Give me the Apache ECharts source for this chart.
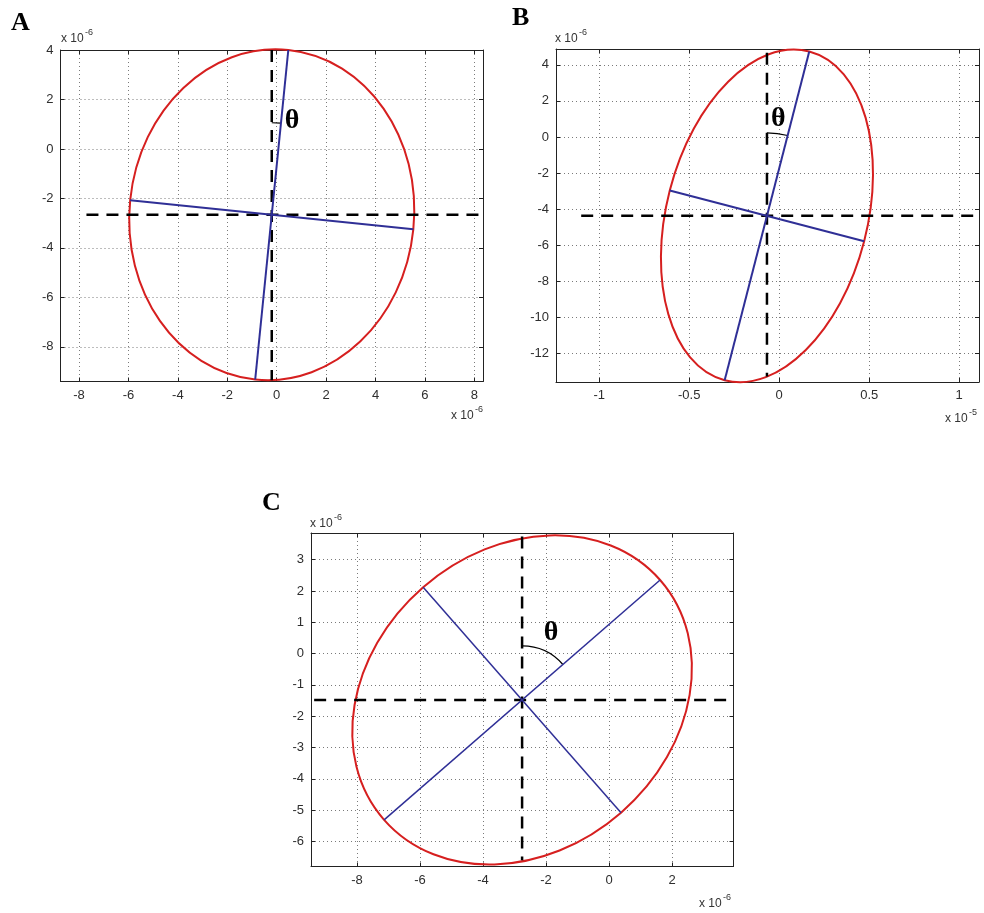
<!DOCTYPE html>
<html>
<head>
<meta charset="utf-8">
<title>Ellipse fits</title>
<script src="https://cdn.jsdelivr.net/npm/echarts@6/dist/echarts.min.js"></script>
<style>
  html, body { margin: 0; padding: 0; background: #fff; }
  #chart { width: 984px; height: 913px; }
</style>
</head>
<body>
<div id="chart"></div>
<script>
// ---------- Panel A (both axes in units of 1e-6) ----------
const aXTicks = [-8, -6, -4, -2, 0, 2, 4, 6, 8];
const aYTicks = [-8, -6, -4, -2, 0, 2, 4];
const aXRange = [-8.75, 8.35];
const aYRange = [-9.4, 4];
const aCenter = [-0.2, -2.66];
const aMajorEnds = [[0.47, 4.0], [-0.87, -9.32]];
const aMinorEnds = [[-5.93, -2.07], [5.53, -3.25]];
const aVDash = [[-0.2, 4.0], [-0.2, -9.35]];
const aHDash = [[-7.7, -2.66], [8.35, -2.66]];
const aTheta = [0.62, 1.15];

// ---------- Panel B (x in units of 1e-5, y in units of 1e-6) ----------
const bXTicks = [-1, -0.5, 0, 0.5, 1];
const bYTicks = [-12, -10, -8, -6, -4, -2, 0, 2, 4];
const bXRange = [-1.24, 1.11];
const bYRange = [-13.6, 4.88];
const bCenter = [-0.068, -4.38];
const bMajorEnds = [[0.167, 4.74], [-0.303, -13.5]];
const bMinorEnds = [[-0.608, -2.97], [0.472, -5.79]];
const bVDash = [[-0.068, 4.67], [-0.068, -13.3]];
const bHDash = [[-1.1, -4.38], [1.11, -4.38]];
const bTheta = [-0.005, 1.02];

// ---------- Panel C (both axes in units of 1e-6) ----------
const cXTicks = [-8, -6, -4, -2, 0, 2];
const cYTicks = [-6, -5, -4, -3, -2, -1, 0, 1, 2, 3];
const cXRange = [-9.46, 3.95];
const cYRange = [-6.8, 3.85];
const cCenter = [-2.76, -1.48];
const cMajorEnds = [[1.62, 2.35], [-7.14, -5.31]];
const cMinorEnds = [[-5.9, 2.12], [0.38, -5.08]];
const cVDash = [[-2.76, 3.74], [-2.76, -6.6]];
const cHDash = [[-9.36, -1.48], [3.84, -1.48]];
const cTheta = [-1.84, 0.66];

const RED = '#d61f1f';
const BLUE = '#2f2f96';
const INK = '#222';
const SANS = '"Liberation Sans", Arial, sans-serif';
const SERIF = '"Liberation Serif", "DejaVu Serif", serif';

// Ellipse through the ends of its two axes (drawn as four cubic arcs in
// pixel space), plus the angle arc between the vertical and the major axis.
function ellipseRenderer(center, majorEnds, minorEnds, arcRadius, thetaAt) {
  return function (params, api) {
    const c = api.coord(center);
    const a = api.coord(majorEnds[0]);
    const b = api.coord(minorEnds[0]);
    const u = [a[0] - c[0], a[1] - c[1]];
    const v = [b[0] - c[0], b[1] - c[1]];
    const k = 0.5522847;
    const P = (s, t) => (c[0] + s * u[0] + t * v[0]).toFixed(2) + ' ' + (c[1] + s * u[1] + t * v[1]).toFixed(2);
    const d = 'M' + P(1, 0) +
      ' C' + P(1, k) + ' ' + P(k, 1) + ' ' + P(0, 1) +
      ' C' + P(-k, 1) + ' ' + P(-1, k) + ' ' + P(-1, 0) +
      ' C' + P(-1, -k) + ' ' + P(-k, -1) + ' ' + P(0, -1) +
      ' C' + P(k, -1) + ' ' + P(1, -k) + ' ' + P(1, 0) + ' Z';
    const ang = Math.atan2(u[1], u[0]);
    const t = api.coord(thetaAt);
    return {
      type: 'group',
      children: [
        { type: 'path', shape: { pathData: d }, style: { fill: 'none', stroke: RED, lineWidth: 2 } },
        { type: 'arc', shape: { cx: c[0], cy: c[1], r: arcRadius, startAngle: -Math.PI / 2, endAngle: ang, clockwise: true },
          style: { fill: 'none', stroke: '#000', lineWidth: 1.2 } },
        { type: 'text', x: t[0], y: t[1],
          style: { text: 'θ', font: 'bold 28px ' + SERIF, fill: '#000', align: 'center', verticalAlign: 'middle' } }
      ]
    };
  };
}

const axisLineOpt = { show: true, onZero: false, lineStyle: { color: INK, width: 1 } };
const tickOpt = { show: true, inside: true, length: 4, lineStyle: { color: INK, width: 1 } };
const splitOpt = { show: true, lineStyle: { color: '#7a7a7a', width: 1, type: [1, 3] } };
const labelOpt = { color: '#2e2e2e', fontSize: 13, fontFamily: SANS, margin: 7 };

const xAxes = [];
const yAxes = [];
function addAxes(gi, xr, yr, xt, yt) {
  xAxes.push(
    { type: 'value', gridIndex: gi, position: 'bottom', min: xr[0], max: xr[1],
      axisLine: axisLineOpt, axisTick: Object.assign({ customValues: xt }, tickOpt),
      axisLabel: Object.assign({ customValues: xt }, labelOpt), splitLine: splitOpt },
    { type: 'value', gridIndex: gi, position: 'top', min: xr[0], max: xr[1],
      axisLine: axisLineOpt, axisTick: Object.assign({ customValues: xt }, tickOpt),
      axisLabel: { show: false }, splitLine: { show: false } }
  );
  yAxes.push(
    { type: 'value', gridIndex: gi, position: 'left', min: yr[0], max: yr[1],
      axisLine: axisLineOpt, axisTick: Object.assign({ customValues: yt }, tickOpt),
      axisLabel: Object.assign({ customValues: yt }, labelOpt), splitLine: splitOpt },
    { type: 'value', gridIndex: gi, position: 'right', min: yr[0], max: yr[1],
      axisLine: axisLineOpt, axisTick: Object.assign({ customValues: yt }, tickOpt),
      axisLabel: { show: false }, splitLine: { show: false } }
  );
}
addAxes(0, aXRange, aYRange, aXTicks, aYTicks);
addAxes(1, bXRange, bYRange, bXTicks, bYTicks);
addAxes(2, cXRange, cYRange, cXTicks, cYTicks);

function panelSeries(idx, center, majorEnds, minorEnds, vDash, hDash, arcR, thetaAt, blueWidth) {
  const ax = { xAxisIndex: idx * 2, yAxisIndex: idx * 2 };
  const dash = { color: '#000', width: 2.5, type: [12, 8] };
  const blue = { color: BLUE, width: blueWidth };
  const line = (data, style) => Object.assign({
    type: 'line', data: data, symbol: 'none', silent: true, lineStyle: style
  }, ax);
  return [
    Object.assign({ type: 'custom', data: [center], silent: true, clip: false,
      renderItem: ellipseRenderer(center, majorEnds, minorEnds, arcR, thetaAt) }, ax),
    line(vDash, dash),
    line(hDash, dash),
    line(majorEnds, blue),
    line(minorEnds, blue)
  ];
}

// "x 10" with a raised exponent, used for the axis multipliers
function sciLabel(left, top, exp) {
  return {
    type: 'group', left: left, top: top,
    children: [
      { type: 'text', x: 0, y: 5, style: { text: 'x 10', font: '12px ' + SANS, fill: '#333' } },
      { type: 'text', x: 24, y: 0, style: { text: exp, font: '9px ' + SANS, fill: '#333' } }
    ]
  };
}
function panelLetter(left, top, txt) {
  return { type: 'text', left: left, top: top,
    style: { text: txt, font: 'bold 26px ' + SERIF, fill: '#000' } };
}

const chart = echarts.init(document.getElementById('chart'), null, { renderer: 'canvas' });
chart.setOption({
  backgroundColor: '#fff',
  animation: false,
  grid: [
    { left: 60.5, top: 50, width: 422.5, height: 331.5 },
    { left: 556, top: 49, width: 423, height: 333 },
    { left: 311, top: 533, width: 422.5, height: 333.5 }
  ],
  xAxis: xAxes,
  yAxis: yAxes,
  series: [].concat(
    panelSeries(0, aCenter, aMajorEnds, aMinorEnds, aVDash, aHDash, 92, aTheta, 2),
    panelSeries(1, bCenter, bMajorEnds, bMinorEnds, bVDash, bHDash, 83, bTheta, 2),
    panelSeries(2, cCenter, cMajorEnds, cMinorEnds, cVDash, cHDash, 54, cTheta, 1.5)
  ),
  graphic: [
    panelLetter(11, 10, 'A'),
    panelLetter(512, 5, 'B'),
    panelLetter(262, 490, 'C'),
    sciLabel(61, 28, '-6'),
    sciLabel(451, 405, '-6'),
    sciLabel(555, 28, '-6'),
    sciLabel(945, 408, '-5'),
    sciLabel(310, 513, '-6'),
    sciLabel(699, 893, '-6')
  ]
});
</script>
</body>
</html>
